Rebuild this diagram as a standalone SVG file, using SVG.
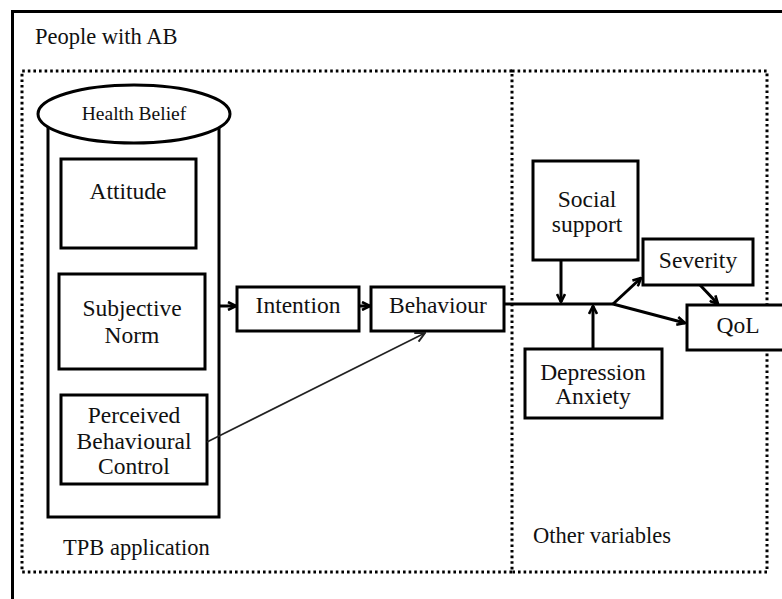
<svg xmlns="http://www.w3.org/2000/svg" width="782" height="599" viewBox="0 0 782 599">
<style>
text{font-family:"Liberation Serif","Times New Roman",serif;fill:#111;}
.t{font-size:23.5px;text-anchor:middle;}
.lbl{font-size:22.5px;}
.box{fill:#fff;stroke:#000;stroke-width:3;}
.dot{fill:none;stroke:#000;stroke-width:3;stroke-dasharray:2.6 3;}
.c{fill:none;stroke:#000;stroke-width:3;}
.thin{fill:none;stroke:#222;stroke-width:1.6;}
</style>
<defs>
<marker id="ah" viewBox="0 0 10 10" refX="9" refY="5" markerWidth="10" markerHeight="10" markerUnits="userSpaceOnUse" orient="auto">
<path d="M1,1 L9,5 L1,9" fill="none" stroke="#000" stroke-width="2.6"/>
</marker>
<marker id="ah2" viewBox="0 0 10 10" refX="9" refY="5" markerWidth="12" markerHeight="12" markerUnits="userSpaceOnUse" orient="auto">
<path d="M1,1 L9,5 L1,9" fill="none" stroke="#222" stroke-width="1.6"/>
</marker>
</defs>
<rect width="782" height="599" fill="#fff"/>
<g id="outer">
<rect x="12.5" y="11.5" width="790" height="590" fill="none" stroke="#000" stroke-width="3"/>
<text class="lbl" x="35" y="44">People with AB</text>
</g>
<g id="tpb-region">
<path class="dot" d="M512,71 L22,71 L22,572 L512,572"/>
<text class="lbl" x="63" y="555">TPB application</text>
</g>
<g id="other-region">
<path class="dot" d="M512,71 L767,71 L767,572 L512,572 Z"/>
<text class="lbl" x="533" y="543">Other variables</text>
</g>
<g id="health-belief">
<rect class="box" x="48" y="114" width="171" height="403"/>
<ellipse class="box" cx="134" cy="114" rx="96" ry="29"/>
<text x="134" y="120" style="font-size:19.5px;text-anchor:middle">Health Belief</text>
</g>
<g id="attitude">
<rect class="box" x="61" y="159" width="135" height="89"/>
<text class="t" x="128" y="199">Attitude</text>
</g>
<g id="subjective-norm">
<rect class="box" x="59" y="274" width="146" height="95"/>
<text class="t" x="132" y="316">Subjective</text>
<text class="t" x="132" y="343">Norm</text>
</g>
<g id="pbc">
<rect class="box" x="61" y="395" width="146" height="89"/>
<text class="t" x="134" y="423">Perceived</text>
<text class="t" x="134" y="449">Behavioural</text>
<text class="t" x="134" y="474">Control</text>
</g>
<g id="intention">
<rect class="box" x="237" y="287" width="122" height="44"/>
<text class="t" x="298" y="313">Intention</text>
</g>
<g id="behaviour">
<rect class="box" x="371" y="287" width="133" height="44"/>
<text class="t" x="438" y="313">Behaviour</text>
</g>
<g id="social-support">
<rect class="box" x="533" y="161" width="105" height="99"/>
<text class="t" x="587" y="207">Social</text>
<text class="t" x="587" y="232">support</text>
</g>
<g id="depression-anxiety">
<rect class="box" x="525" y="349" width="137" height="69"/>
<text class="t" x="593" y="380">Depression</text>
<text class="t" x="593" y="404">Anxiety</text>
</g>
<g id="severity">
<rect class="box" x="643" y="239" width="110" height="46"/>
<text class="t" x="698" y="268">Severity</text>
</g>
<g id="qol">
<rect class="box" x="687" y="305" width="110" height="45"/>
<text class="t" x="738" y="333">QoL</text>
</g>
<g id="connectors">
<line class="c" x1="219" y1="306" x2="236" y2="306" marker-end="url(#ah)"/>
<line class="c" x1="359" y1="306" x2="370" y2="306" marker-end="url(#ah)"/>
<line class="c" x1="504" y1="304" x2="613" y2="304"/>
<line class="c" x1="561" y1="260" x2="561" y2="302" marker-end="url(#ah)"/>
<line class="c" x1="593" y1="349" x2="593" y2="306" marker-end="url(#ah)"/>
<line class="c" x1="613" y1="304" x2="641" y2="278" marker-end="url(#ah)"/>
<line class="c" x1="613" y1="304" x2="685" y2="323" marker-end="url(#ah)"/>
<line class="c" x1="700" y1="285" x2="718" y2="304" marker-end="url(#ah)"/>
<line class="thin" x1="207" y1="442" x2="425" y2="333" marker-end="url(#ah2)"/>
</g>
</svg>
